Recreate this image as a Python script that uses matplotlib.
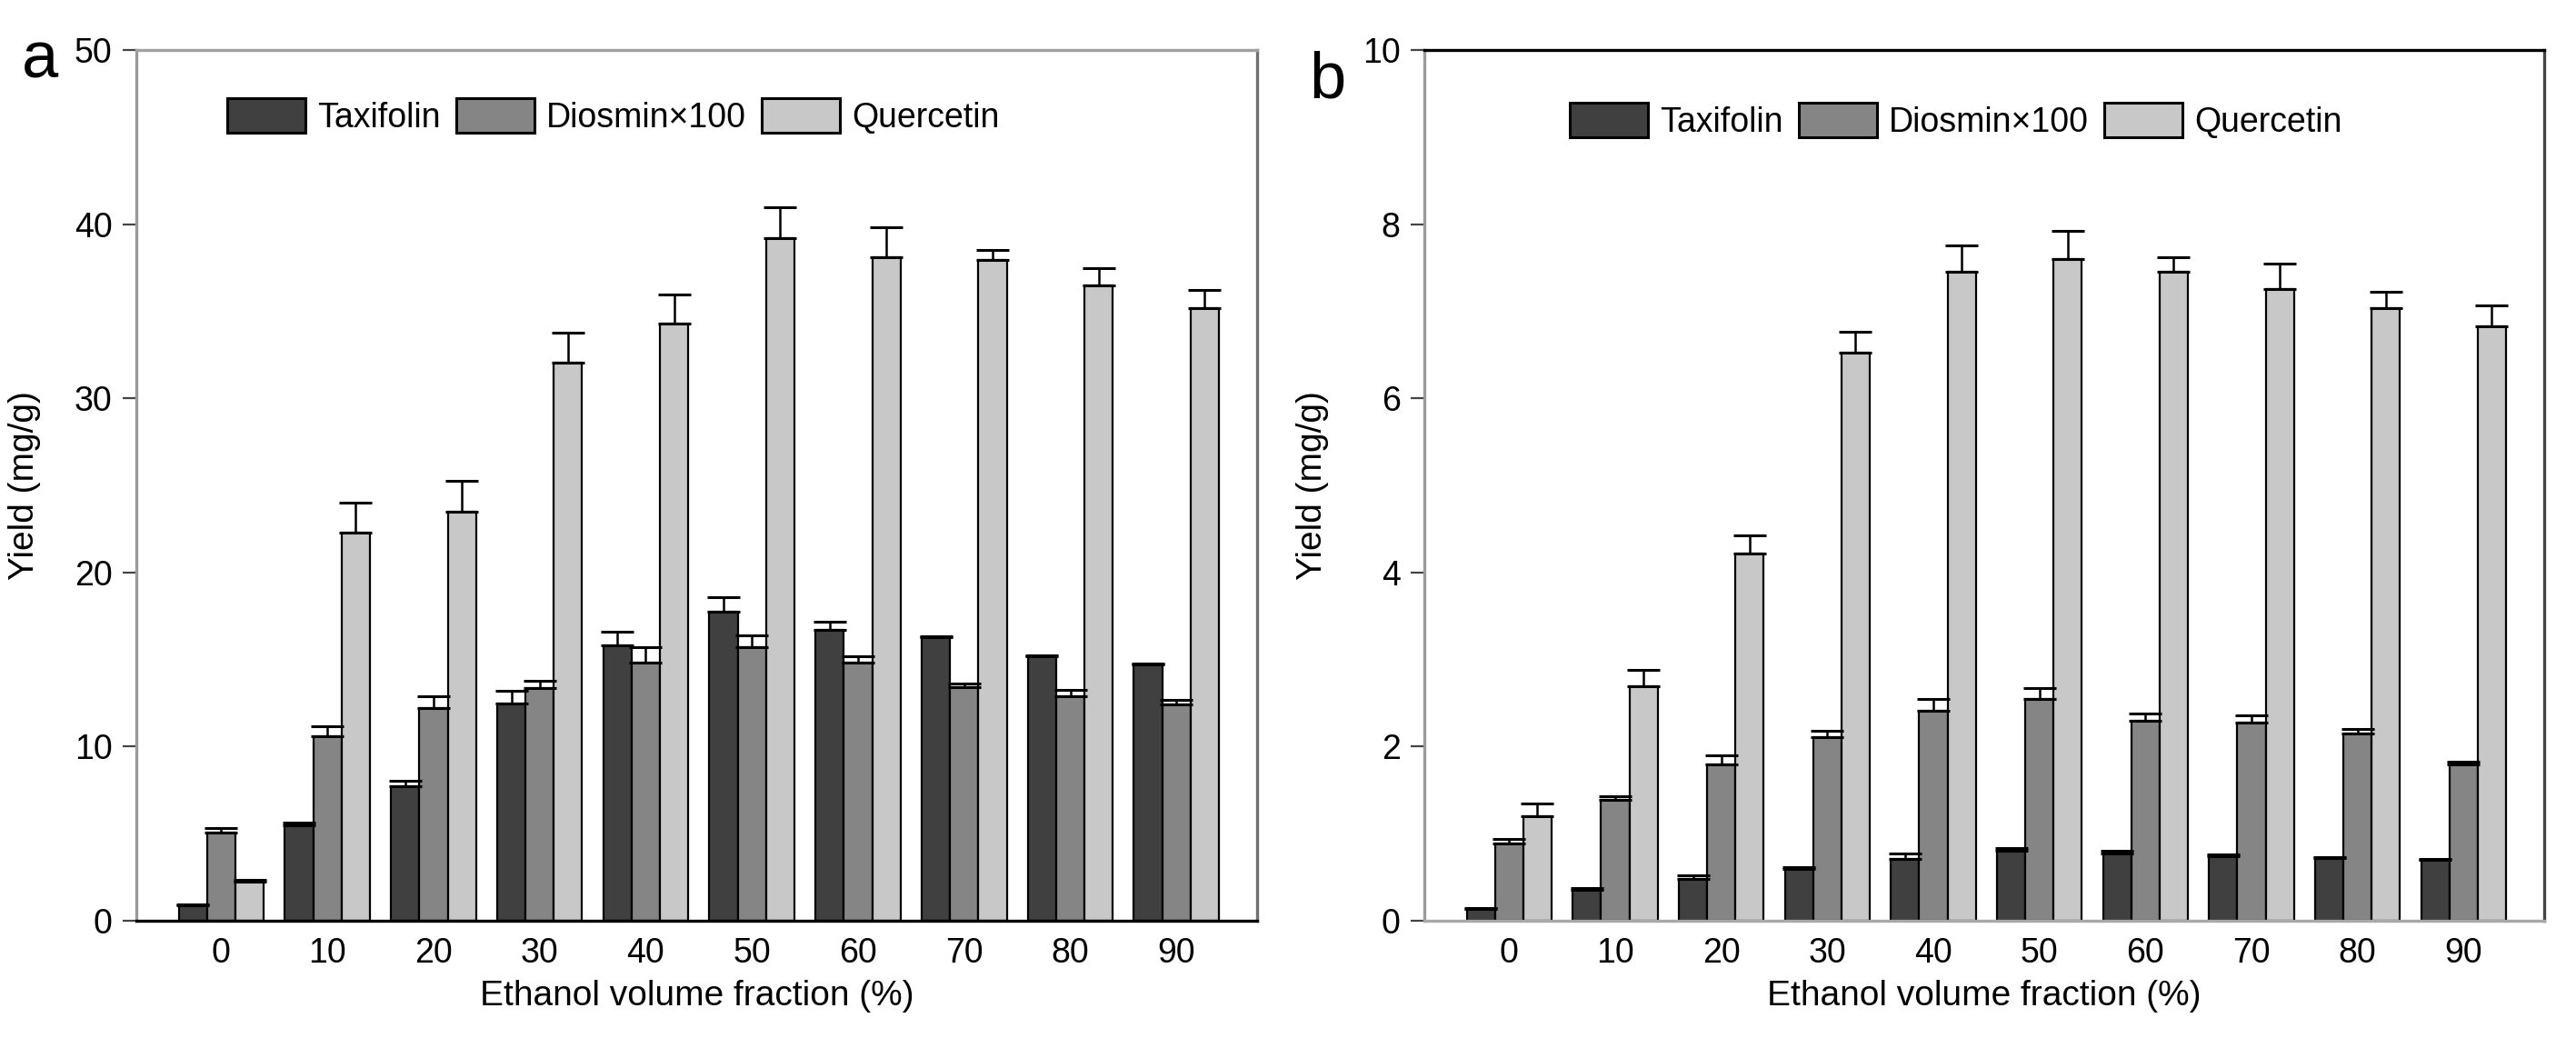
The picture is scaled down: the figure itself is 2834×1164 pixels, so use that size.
import matplotlib
matplotlib.use("Agg")
import matplotlib.pyplot as plt
import numpy as np

plt.rcParams['font.family'] = ['Liberation Sans', 'DejaVu Sans']

categories = ["0", "10", "20", "30", "40", "50", "60", "70", "80", "90"]
series_names = ["Taxifolin", "Diosmin\u00d7100", "Quercetin"]

# Panel a
a_taxifolin = [0.9, 5.5, 7.75, 12.5, 15.8, 17.75, 16.7, 16.3, 15.2, 14.7]
a_diosmin = [5.05, 10.6, 12.2, 13.35, 14.8, 15.7, 14.8, 13.4, 12.9, 12.4]
a_quercetin = [2.25, 22.3, 23.5, 32.05, 34.3, 39.2, 38.1, 37.95, 36.5, 35.2]
a_taxifolin_err = [0.05, 0.15, 0.3, 0.7, 0.8, 0.85, 0.45, 0.05, 0.05, 0.05]
a_diosmin_err = [0.25, 0.55, 0.7, 0.45, 0.9, 0.7, 0.4, 0.2, 0.35, 0.3]
a_quercetin_err = [0.1, 1.7, 1.75, 1.7, 1.65, 1.75, 1.7, 0.55, 1.0, 1.0]

# Panel b
b_taxifolin = [0.14, 0.36, 0.48, 0.6, 0.71, 0.8, 0.77, 0.74, 0.72, 0.7]
b_diosmin = [0.89, 1.39, 1.8, 2.11, 2.41, 2.55, 2.3, 2.28, 2.15, 1.8]
b_quercetin = [1.2, 2.69, 4.22, 6.52, 7.45, 7.6, 7.45, 7.25, 7.04, 6.83]
b_taxifolin_err = [0.01, 0.02, 0.04, 0.02, 0.06, 0.03, 0.03, 0.02, 0.01, 0.01]
b_diosmin_err = [0.05, 0.04, 0.1, 0.07, 0.14, 0.12, 0.08, 0.08, 0.05, 0.03]
b_quercetin_err = [0.15, 0.19, 0.21, 0.24, 0.31, 0.32, 0.17, 0.3, 0.18, 0.24]

colors = ["#404040", "#858585", "#c8c8c8"]

W, H = 2834, 1164
fig = plt.figure(figsize=(W / 100, H / 100), dpi=100)

def fx(px):
    return px / W

def fy(py):
    return 1 - py / H

TICK_FS = 27
LABEL_FS = 28

def make_panel(rect, vals, errs, ylim, yticks, spine_colors, legend_xy, letter, letter_xy):
    ax = fig.add_axes(rect)
    x = np.arange(len(categories))
    w = 0.267
    for i, (v, e) in enumerate(zip(vals, errs)):
        ax.bar(x + (i - 1) * w, v, width=w, color=colors[i], edgecolor="black",
               linewidth=1.6, label=series_names[i], zorder=2,
               yerr=[np.zeros(len(e)), e], capsize=13,
               error_kw=dict(ecolor="black", elinewidth=1.8, capthick=2.2, zorder=3))
    ax.set_xlim(-0.8, 9.76)
    ax.set_ylim(*ylim)
    ax.set_yticks(yticks)
    ax.set_yticklabels([str(t) for t in yticks], fontsize=TICK_FS)
    ax.set_xticks(x)
    ax.set_xticklabels(categories, fontsize=TICK_FS)
    ax.tick_params(axis="x", length=0, pad=13)
    ax.tick_params(axis="y", direction="out", length=11, width=1.6, color="#444444", pad=8)
    for side, c in spine_colors.items():
        ax.spines[side].set_color(c)
        ax.spines[side].set_linewidth(2.4)
    ax.set_ylabel("Yield (mg/g)", fontsize=LABEL_FS)
    ax.yaxis.set_label_coords(-0.085, 0.5)
    ax.set_xlabel("Ethanol volume fraction (%)", fontsize=LABEL_FS)
    ax.xaxis.set_label_coords(0.5, -0.068)
    leg = ax.legend(loc="center left", bbox_to_anchor=legend_xy,
                    bbox_transform=fig.transFigure, ncol=3, frameon=False,
                    fontsize=TICK_FS, handlelength=2.3, handleheight=1.15,
                    handletextpad=0.35, columnspacing=0.45, borderpad=0,
                    borderaxespad=0)
    for p in leg.get_patches():
        p.set_linewidth(2.2)
    fig.text(letter_xy[0], letter_xy[1], letter, fontsize=52, ha="left", va="baseline")
    return ax

ax_a = make_panel([fx(150), fy(1013), fx(1233), (1013 - 55) / H],
                  [a_taxifolin, a_diosmin, a_quercetin],
                  [a_taxifolin_err, a_diosmin_err, a_quercetin_err],
                  (0, 50), [0, 10, 20, 30, 40, 50],
                  {"top": "#a0a0a0", "left": "#9a9a9a", "bottom": "#000000", "right": "#707070"},
                  (fx(250), fy(128)), "a", (fx(24), fy(85)))

ax_b = make_panel([fx(1567), fy(1013), fx(1232), (1013 - 55) / H],
                  [b_taxifolin, b_diosmin, b_quercetin],
                  [b_taxifolin_err, b_diosmin_err, b_quercetin_err],
                  (0, 10), [0, 2, 4, 6, 8, 10],
                  {"top": "#000000", "left": "#9a9a9a", "bottom": "#a8a8a8", "right": "#444444"},
                  (fx(1727), fy(133)), "b", (fx(1440), fy(107)))

fig.savefig("out.png", dpi=100)
